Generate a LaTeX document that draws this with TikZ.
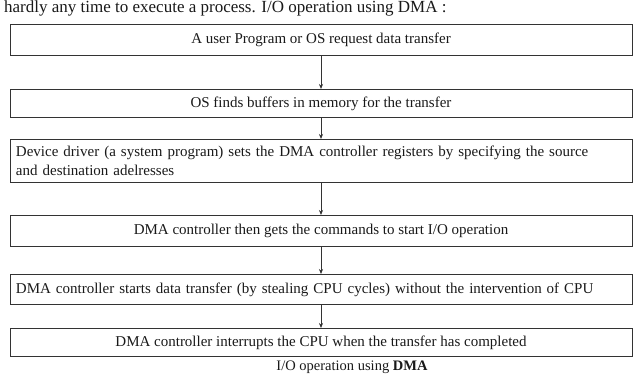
\documentclass[tikz,border=0pt]{standalone}
\usepackage{fontspec}
\setmainfont{Liberation Serif}
\usetikzlibrary{arrows.meta}
\begin{document}
\begin{tikzpicture}[x=1pt,y=-1pt,
  flowbox/.style={draw=black!80, line width=1pt, minimum width=622pt, anchor=north,
    inner sep=0pt, font=\fontsize{15}{19}\selectfont, text=black!90},
  leftbox/.style={flowbox, align=left, text width=610pt},
  link/.style={draw=black!80, -{Stealth[length=5pt,width=4pt]}, line width=0.7pt},
  plaintext/.style={inner sep=0pt, font=\fontsize{14.5}{17}\selectfont, text=black!90}]
\useasboundingbox (0,0) rectangle (642,376);
\node[plaintext, anchor=west, font=\fontsize{17}{20}\selectfont] (intro) at (4,8) {hardly any time to execute a process. I/O operation using DMA :};
\node[flowbox, minimum height=31pt] (b1) at (321,24) {A user Program or OS request data transfer};
\node[flowbox, minimum height=28pt] (b2) at (321,89) {OS finds buffers in memory for the transfer};
\node[leftbox, minimum height=43pt] (b3) at (321,139) {Device driver (a system program) sets the DMA controller registers by specifying the source\\and destination adelresses};
\node[flowbox, minimum height=31pt] (b4) at (321,215) {DMA controller then gets the commands to start I/O operation};
\node[leftbox, minimum height=30pt] (b5) at (321,274) {DMA controller starts data transfer (by stealing CPU cycles) without the intervention of CPU};
\node[flowbox, minimum height=28pt] (b6) at (321,328) {DMA controller interrupts the CPU when the transfer has completed};
\node[plaintext] (caption) at (352,367) {I/O operation using \textbf{DMA}};
\draw[link] (b1) -- (b2);
\draw[link] (b2) -- (b3);
\draw[link] (b3) -- (b4);
\draw[link] (b4) -- (b5);
\draw[link] (b5) -- (b6);
\end{tikzpicture}
\end{document}
